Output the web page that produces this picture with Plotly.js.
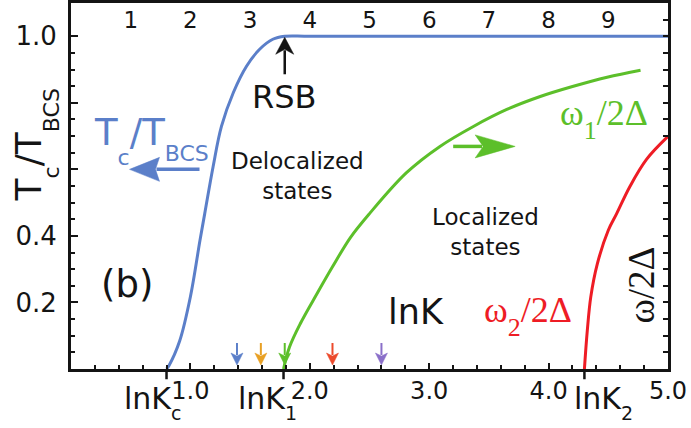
<!DOCTYPE html>
<html>
<head>
<meta charset="utf-8">
<script src="https://cdn.plot.ly/plotly-3.0.1.min.js"></script>
<style>
  html, body { margin: 0; padding: 0; background: #ffffff; }
  #chart { width: 691px; height: 428px; }
</style>
</head>
<body>
<div id="chart"></div>
<script>
// Critical temperature T_c/T_BCS versus lnK
const tcX = [0.80, 0.82, 0.91, 1.00, 1.08, 1.12, 1.19, 1.26, 1.36, 1.47, 1.58, 1.69, 1.79, 2.00, 5.00];
const tcY = [0.000, 0.010, 0.084, 0.217, 0.386, 0.467, 0.608, 0.729, 0.831, 0.910, 0.961, 0.991, 1.000, 1.000, 1.000];

// First excitation frequency omega_1/2Delta
const w1X = [1.78, 1.83, 1.92, 2.06, 2.19, 2.34, 2.50, 2.81, 3.09, 3.37, 3.65, 3.93, 4.20, 4.49, 4.77];
const w1Y = [0.000, 0.066, 0.136, 0.226, 0.307, 0.395, 0.467, 0.590, 0.669, 0.729, 0.780, 0.819, 0.849, 0.877, 0.898];

// Second excitation frequency omega_2/2Delta
const w2X = [4.30, 4.324, 4.353, 4.408, 4.500, 4.570, 4.68, 4.82, 5.00];
const w2Y = [0.000, 0.115, 0.216, 0.316, 0.417, 0.467, 0.548, 0.630, 0.699];

// Bottom axis ticks
const bottomTickVals = [1, 2, 3, 4, 5];
const bottomTickText = ['1.0', '2.0', '3.0', '4.0', '5.0'];

// Characteristic points lnK_c, lnK_1, lnK_2
const lnKNames = ['c', '1', '2'];
const lnKValues = [0.80, 1.78, 4.30];

// Top scale labels
const topTickVals = [1, 2, 3, 4, 5, 6, 7, 8, 9];

// Left axis ticks
const leftTickVals = [0.2, 0.4, 0.6, 0.8, 1.0];
const leftTickText = ['0.2', '0.4', '', '', '1.0'];

// Marked lnK values on the axis and their colours
const markX = [1.39, 1.59, 1.79, 2.19, 2.60];
const markColors = ['#5b7fc9', '#e8a024', '#5cbf2a', '#ec4a2c', '#8a6fc9'];

const BLUE = '#5b7fc9';
const GREEN = '#5cbf2a';
const RED = '#ee1c25';
const INK = '#141414';
const SANS = 'DejaVu Sans, Verdana, sans-serif';
const SERIF = 'Liberation Serif, Times New Roman, serif';

function subText(main, sub, subSize, shift) {
  return main + '<span style="font-size:' + subSize + 'px;baseline-shift:-' + shift + 'px">' + sub + '</span>';
}

// Arrow built from a shaft and a filled head, sized in pixels around its tip
function arrowShapes(tx, ty, dx, dy, shaft, head, half, notch, width, color) {
  const nx = -dy, ny = dx;
  const f = v => v.toFixed(1);
  const back = head - notch;
  const headPath = 'M0,0' +
    'L' + f(-dx * head + nx * half) + ',' + f(-dy * head + ny * half) +
    'L' + f(-dx * back) + ',' + f(-dy * back) +
    'L' + f(-dx * head - nx * half) + ',' + f(-dy * head - ny * half) + 'Z';
  const shaftPath = 'M' + f(-dx * shaft) + ',' + f(-dy * shaft) +
    'L' + f(-dx * (back + 1)) + ',' + f(-dy * (back + 1));
  const common = { type: 'path', xref: 'x', yref: 'y', xsizemode: 'pixel', ysizemode: 'pixel',
                   xanchor: tx, yanchor: ty, layer: 'above' };
  return [
    Object.assign({}, common, { path: shaftPath, line: { color: color, width: width } }),
    Object.assign({}, common, { path: headPath, fillcolor: color, line: { color: color, width: 0.5 } })
  ];
}

const traces = [
  { x: tcX, y: tcY, mode: 'lines', line: { color: BLUE, width: 3, shape: 'spline', smoothing: 1 }, hoverinfo: 'skip' },
  { x: w1X, y: w1Y, mode: 'lines', line: { color: GREEN, width: 3, shape: 'spline', smoothing: 1 }, hoverinfo: 'skip' },
  { x: w2X, y: w2Y, mode: 'lines', line: { color: RED, width: 3, shape: 'spline', smoothing: 1 }, hoverinfo: 'skip' },
  // carriers for the top scale and the right-hand tick column
  { x: [], y: [], xaxis: 'x2', yaxis: 'y', mode: 'lines', hoverinfo: 'skip' },
  { x: [], y: [], xaxis: 'x', yaxis: 'y2', mode: 'lines', hoverinfo: 'skip' }
];

let shapes = [];
// long outward ticks marking lnK_c, lnK_1, lnK_2
lnKValues.forEach(v => {
  shapes.push({ type: 'line', xref: 'x', yref: 'paper', x0: v, x1: v, y0: 0, y1: -0.028,
                line: { color: INK, width: 2.5 } });
});
// Tc/TBCS pointer (left) and omega_1 pointer (right)
shapes = shapes.concat(arrowShapes(0.49, 0.600, -1, 0, 70, 30, 12, 4, 3.5, BLUE));
shapes = shapes.concat(arrowShapes(3.72, 0.669, 1, 0, 62, 40, 11.5, 8, 3.5, GREEN));
// RSB pointer
shapes = shapes.concat(arrowShapes(1.79, 0.997, 0, 1, 37, 17, 9, 5, 2.5, INK));
// small markers on the lnK axis
markX.forEach((x, i) => {
  shapes = shapes.concat(arrowShapes(x, 0.012, 0, -1, 22, 12, 6, 3, 2, markColors[i]));
});

const annotations = [
  // left axis title
  { xref: 'paper', yref: 'paper', x: -0.058, y: 0.612, xanchor: 'center', yanchor: 'middle', textangle: -90,
    showarrow: false, font: { family: SANS, size: 36, color: INK },
    text: subText('T', 'c', 22, 18) + '/' + subText('T', 'BCS', 22, 18) },
  // right axis title
  { xref: 'paper', yref: 'paper', x: 0.956, y: 0.23, xanchor: 'center', yanchor: 'middle', textangle: -90,
    showarrow: false, font: { family: SERIF, size: 37, color: INK }, text: 'ω/2Δ' },
  // curve labels
  { x: 0.18, y: 0.687, xanchor: 'left', yanchor: 'middle', showarrow: false,
    font: { family: SANS, size: 37, color: BLUE },
    text: subText('T', 'c', 22, 20) + '/' + subText('T', 'BCS', 22, 16) },
  { x: 4.08, y: 0.75, xanchor: 'left', yanchor: 'middle', showarrow: false,
    font: { family: SERIF, size: 36, color: GREEN }, text: subText('ω', '1', 26, 14) + '/2Δ' },
  { x: 3.44, y: 0.16, xanchor: 'left', yanchor: 'middle', showarrow: false,
    font: { family: SERIF, size: 36, color: RED }, text: subText('ω', '2', 26, 14) + '/2Δ' },
  // region labels
  { x: 1.79, y: 0.819, showarrow: false, font: { family: SANS, size: 32, color: INK }, text: 'RSB' },
  { x: 1.90, y: 0.581, showarrow: false, font: { family: SANS, size: 23, color: INK }, text: 'Delocalized<br>states' },
  { x: 3.47, y: 0.413, showarrow: false, font: { family: SANS, size: 23, color: INK }, text: 'Localized<br>states' },
  { x: 2.89, y: 0.172, showarrow: false, font: { family: SANS, size: 35, color: INK }, text: 'lnK' },
  { x: 0.47, y: 0.253, showarrow: false, font: { family: SANS, size: 37, color: INK }, text: '(b)' }
];
const lnKShift = [-45, -48, -12];
lnKValues.forEach((v, i) => {
  annotations.push({ x: v, xref: 'x', yref: 'paper', y: 0, xanchor: 'left', yanchor: 'top',
    xshift: lnKShift[i], yshift: -10, showarrow: false,
    font: { family: SANS, size: 30, color: INK }, text: subText('lnK', lnKNames[i], 19, 11) });
});

const layout = {
  width: 691, height: 428,
  margin: { l: 71, r: 23, t: 3, b: 59, pad: 0 },
  paper_bgcolor: '#ffffff', plot_bgcolor: '#ffffff',
  showlegend: false,
  xaxis: {
    range: [0, 5], showgrid: false, zeroline: false,
    showline: true, linewidth: 3, linecolor: INK, mirror: true,
    tickmode: 'array', tickvals: bottomTickVals, ticktext: bottomTickText,
    ticks: 'inside', ticklen: 6, tickwidth: 2, tickcolor: INK,
    tickfont: { family: SANS, size: 24, color: INK }, ticklabelstandoff: -2,
    minor: { tickmode: 'linear', tick0: 0, dtick: 0.2, ticks: 'inside', ticklen: 4, tickwidth: 2, tickcolor: INK }
  },
  xaxis2: {
    overlaying: 'x', anchor: 'y', side: 'top', range: [0, 10],
    showgrid: false, zeroline: false, showline: false,
    tickmode: 'array', tickvals: topTickVals, ticks: '',
    ticklabelposition: 'inside', ticklabelstandoff: 6,
    tickfont: { family: SANS, size: 23, color: INK }
  },
  yaxis: {
    range: [0, 1.10], showgrid: false, zeroline: false,
    showline: true, linewidth: 3, linecolor: INK, mirror: true,
    tickmode: 'array', tickvals: leftTickVals, ticktext: leftTickText,
    ticks: 'inside', ticklen: 7, tickwidth: 2, tickcolor: INK,
    tickfont: { family: SANS, size: 26, color: INK }, ticklabelstandoff: 6,
    minor: { tickmode: 'linear', tick0: 0, dtick: 0.05, ticks: 'inside', ticklen: 4, tickwidth: 2, tickcolor: INK }
  },
  yaxis2: {
    overlaying: 'y', anchor: 'x', side: 'right', range: [0, 1.10],
    showgrid: false, zeroline: false, showline: false, showticklabels: false,
    tickmode: 'linear', tick0: 0, dtick: 0.05,
    ticks: 'inside', ticklen: 5, tickwidth: 2, tickcolor: INK
  },
  shapes: shapes,
  annotations: annotations
};

Plotly.newPlot('chart', traces, layout, { staticPlot: true, displayModeBar: false });
</script>
</body>
</html>
